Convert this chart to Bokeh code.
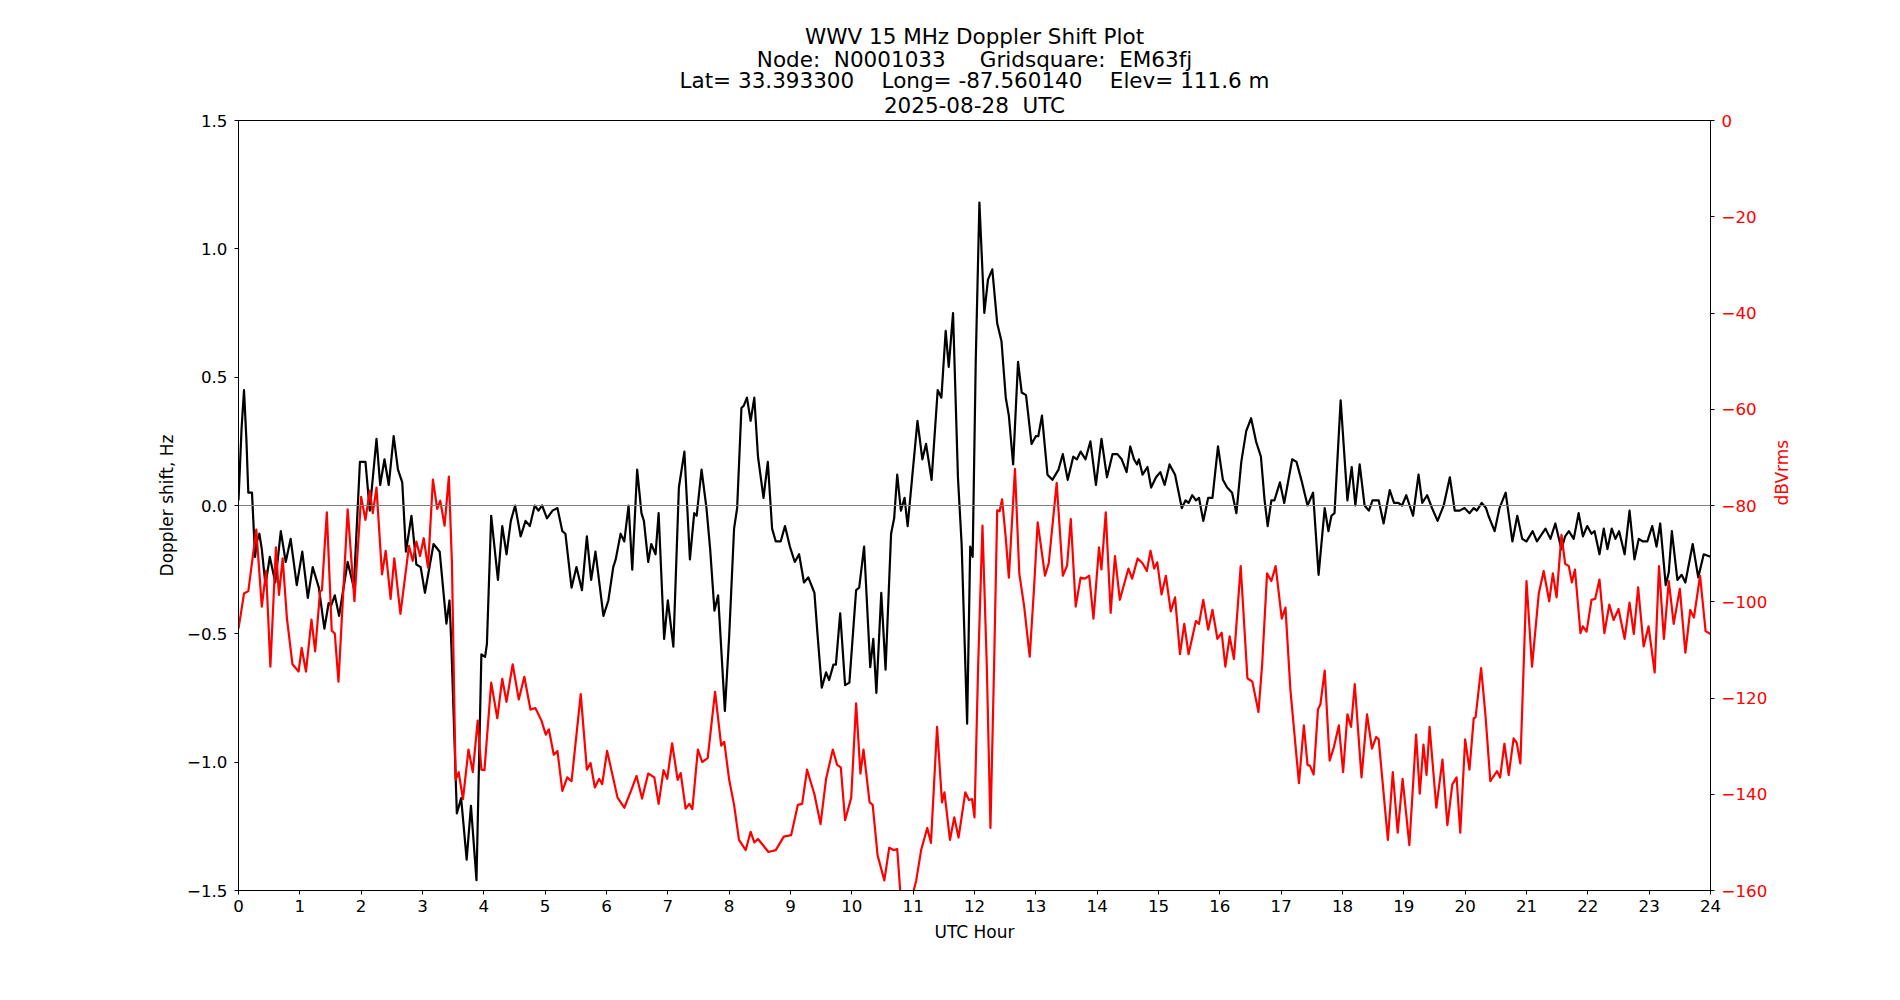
import math
from bokeh.plotting import figure
from bokeh.models import Range1d, LinearAxis, FixedTicker, Span, Title
from bokeh.embed import file_html
from bokeh.resources import INLINE

# ---------------- data ----------------
NB = "\u00a0"
title_lines = [
    "WWV 15 MHz Doppler Shift Plot",
    "Node:" + NB + " N0001033" + NB * 4 + " Gridsquare:" + NB + " EM63fj",
    "Lat= 33.393300" + NB * 3 + " Long= -87.560140" + NB * 3 + " Elev= 111.6 m",
    "2025-08-28" + NB + " UTC",
]

doppler_hours = [
    0.0, 0.05, 0.09, 0.13, 0.16, 0.22, 0.27, 0.30, 0.34, 0.38, 0.44, 0.51, 0.6, 0.69, 0.77, 0.85, 0.95,
    1.04, 1.13, 1.21, 1.31, 1.40, 1.47, 1.51, 1.57, 1.64, 1.78, 1.88, 1.98, 2.04, 2.07, 2.14, 2.25, 2.31,
    2.38, 2.45, 2.53, 2.6, 2.67, 2.73, 2.82, 2.9, 2.97, 3.04, 3.18, 3.28, 3.39, 3.44, 3.47, 3.56, 3.63,
    3.72, 3.79, 3.88, 3.96, 4.02, 4.05, 4.12, 4.23, 4.3, 4.37, 4.44, 4.51, 4.6, 4.68, 4.75, 4.83, 4.89,
    4.95, 5.03, 5.12, 5.2, 5.28, 5.33, 5.43, 5.51, 5.6, 5.68, 5.75, 5.82, 5.95, 6.03, 6.11, 6.15, 6.23,
    6.29, 6.36, 6.42, 6.5, 6.57, 6.61, 6.68, 6.73, 6.8, 6.85, 6.94, 7.0, 7.09, 7.18, 7.27, 7.36, 7.43,
    7.47, 7.55, 7.63, 7.69, 7.76, 7.82, 7.93, 8.0, 8.08, 8.13, 8.2, 8.24, 8.29, 8.35, 8.41, 8.47, 8.56,
    8.63, 8.7, 8.76, 8.84, 8.91, 8.99, 9.07, 9.14, 9.22, 9.29, 9.39, 9.44, 9.51, 9.58, 9.63, 9.7, 9.74,
    9.81, 9.89, 9.96, 10.07, 10.12, 10.2, 10.3, 10.35, 10.4, 10.48, 10.55, 10.64, 10.69, 10.74, 10.8,
    10.86, 10.91, 10.98, 11.07, 11.15, 11.21, 11.3, 11.4, 11.46, 11.53, 11.58, 11.65, 11.73, 11.79,
    11.88, 11.93, 11.97, 12.02, 12.08, 12.16, 12.22, 12.29, 12.37, 12.44, 12.51, 12.56, 12.63, 12.71,
    12.77, 12.84, 12.93, 13.0, 13.04, 13.1, 13.19, 13.27, 13.37, 13.44, 13.52, 13.61, 13.67, 13.73,
    13.81, 13.89, 13.98, 14.07, 14.16, 14.25, 14.33, 14.4, 14.48, 14.54, 14.6, 14.65, 14.68, 14.74,
    14.82, 14.88, 14.96, 15.03, 15.1, 15.18, 15.27, 15.38, 15.44, 15.49, 15.55, 15.61, 15.66, 15.73,
    15.81, 15.88, 15.97, 16.05, 16.12, 16.2, 16.27, 16.35, 16.43, 16.51, 16.59, 16.67, 16.73, 16.78,
    16.84, 16.89, 16.98, 17.05, 17.18, 17.25, 17.34, 17.43, 17.52, 17.61, 17.71, 17.77, 17.82, 17.87,
    17.97, 18.08, 18.15, 18.21, 18.28, 18.36, 18.43, 18.49, 18.54, 18.59, 18.67, 18.77, 18.84, 18.91,
    18.97, 19.04, 19.15, 19.24, 19.3, 19.38, 19.46, 19.55, 19.65, 19.75, 19.83, 19.91, 19.99, 20.07,
    20.14, 20.19, 20.27, 20.34, 20.38, 20.48, 20.56, 20.66, 20.77, 20.85, 20.93, 21.0, 21.1, 21.17,
    21.31, 21.39, 21.47, 21.57, 21.63, 21.69, 21.77, 21.85, 21.92, 21.99, 22.06, 22.11, 22.19, 22.26,
    22.32, 22.39, 22.45, 22.51, 22.6, 22.68, 22.76, 22.83, 22.9, 22.97, 23.05, 23.12, 23.18, 23.27,
    23.32, 23.37, 23.46, 23.53, 23.59, 23.71, 23.8, 23.89, 24.0,
]
doppler_hz = [
    0.02, 0.3, 0.45, 0.25, 0.05, 0.05, -0.2, -0.14, -0.11, -0.17, -0.31, -0.2, -0.3, -0.1, -0.22, -0.13, -0.31,
    -0.18, -0.36, -0.24, -0.32, -0.48, -0.38, -0.39, -0.35, -0.43, -0.22, -0.32, 0.17, 0.17, 0.17, -0.02, 0.26, 0.08,
    0.18, 0.08, 0.27, 0.14, 0.09, -0.18, -0.04, -0.23, -0.24, -0.34, -0.15, -0.18, -0.46, -0.37, -0.54, -1.2, -1.14,
    -1.38, -1.17, -1.46, -0.58, -0.59, -0.54, -0.04, -0.29, -0.08, -0.19, -0.06, 0.0, -0.12, -0.06, -0.08, 0.0, -0.02,
    0.0, -0.05, -0.02, -0.01, -0.1, -0.11, -0.32, -0.24, -0.33, -0.12, -0.29, -0.18, -0.43, -0.37, -0.24, -0.21, -0.11,
    -0.14, 0.0, -0.25, 0.14, -0.03, -0.06, -0.22, -0.15, -0.19, -0.03, -0.52, -0.37, -0.55, 0.07, 0.21, -0.21, -0.03,
    -0.04, 0.14, -0.01, -0.17, -0.41, -0.35, -0.8, -0.51, -0.09, -0.01, 0.38, 0.39, 0.42, 0.33, 0.42, 0.19, 0.03,
    0.17, -0.09, -0.14, -0.14, -0.08, -0.16, -0.22, -0.19, -0.3, -0.28, -0.34, -0.5, -0.71, -0.65, -0.68, -0.62, -0.62,
    -0.42, -0.7, -0.69, -0.33, -0.32, -0.16, -0.63, -0.52, -0.73, -0.34, -0.64, -0.11, -0.05, 0.12, -0.02,
    0.03, -0.08, 0.1, 0.33, 0.18, 0.24, 0.1, 0.45, 0.42, 0.68, 0.54, 0.75, 0.11, -0.15,
    -0.85, -0.16, -0.2, 0.56, 1.18, 0.75, 0.88, 0.92, 0.71, 0.64, 0.42, 0.35, 0.16, 0.56,
    0.44, 0.43, 0.24, 0.27, 0.27, 0.35, 0.12, 0.1, 0.14, 0.2, 0.1, 0.19, 0.18, 0.21,
    0.18, 0.25, 0.08, 0.26, 0.11, 0.2, 0.2, 0.18, 0.13, 0.23, 0.18, 0.16, 0.18, 0.12,
    0.15, 0.07, 0.11, 0.13, 0.08, 0.16, 0.12, -0.01, 0.02, 0.01, 0.04, 0.02, 0.03, -0.06,
    0.03, 0.03, 0.23, 0.1, 0.07, 0.05, -0.03, 0.17, 0.29, 0.34, 0.25, 0.19, 0.02, -0.08,
    0.02, 0.02, 0.09, 0.01, 0.18, 0.17, 0.09, 0.0, 0.05, -0.27, -0.01, -0.1, -0.04, -0.03,
    0.41, 0.02, 0.15, 0.0, 0.16, 0.0, -0.02, 0.02, 0.02, 0.02, -0.07, 0.06, 0.01, 0.01,
    0.0, 0.04, -0.04, 0.12, 0.01, 0.04, -0.01, -0.06, 0.0, 0.11, -0.02, -0.02, -0.01, -0.03,
    -0.01, -0.02, 0.01, -0.01, -0.04, -0.1, -0.01, 0.05, -0.14, -0.04, -0.13, -0.14, -0.1, -0.14,
    -0.09, -0.13, -0.07, -0.17, -0.12, -0.1, -0.13, -0.03, -0.12, -0.08, -0.11, -0.1, -0.19, -0.09,
    -0.17, -0.09, -0.13, -0.1, -0.19, -0.02, -0.21, -0.13, -0.14, -0.14, -0.08, -0.16, -0.07, -0.31,
    -0.26, -0.1, -0.29, -0.27, -0.3, -0.15, -0.28, -0.19, -0.2,
]

power_hours = [
    0.0, 0.09, 0.16, 0.29, 0.38, 0.45, 0.52, 0.61, 0.66, 0.72, 0.79, 0.88, 0.98, 1.03, 1.1, 1.19, 1.25,
    1.33, 1.36, 1.44, 1.52, 1.57, 1.63, 1.78, 1.89, 2.0, 2.07, 2.14, 2.19, 2.25, 2.34, 2.4, 2.48, 2.54,
    2.64, 2.78, 2.84, 2.9, 2.96, 3.02, 3.09, 3.17, 3.24, 3.29, 3.36, 3.43, 3.48, 3.54, 3.59, 3.66, 3.75,
    3.82, 3.9, 3.96, 4.01, 4.12, 4.22, 4.3, 4.37, 4.47, 4.57, 4.66, 4.76, 4.84, 4.94, 5.01, 5.06, 5.14,
    5.2, 5.28, 5.36, 5.43, 5.58, 5.68, 5.74, 5.81, 5.88, 5.93, 6.01, 6.18, 6.29, 6.39, 6.49, 6.58, 6.68,
    6.78, 6.85, 6.93, 6.99, 7.07, 7.16, 7.21, 7.29, 7.35, 7.4, 7.49, 7.56, 7.65, 7.77, 7.87, 7.92, 8.0,
    8.08, 8.16, 8.27, 8.35, 8.41, 8.47, 8.54, 8.64, 8.76, 8.89, 9.01, 9.12, 9.19, 9.27, 9.39, 9.49, 9.58,
    9.69, 9.76, 9.82, 9.89, 9.99, 10.07, 10.14, 10.19, 10.29, 10.34, 10.42, 10.53, 10.61, 10.68, 10.74,
    10.8, 10.88, 10.97, 11.05, 11.13, 11.23, 11.29, 11.39, 11.47, 11.51, 11.6, 11.67, 11.74, 11.85,
    11.91, 11.96, 12.0, 12.06, 12.13, 12.2, 12.26, 12.32, 12.37, 12.41, 12.45, 12.51, 12.56, 12.66,
    12.73, 12.81, 12.9, 12.97, 13.03, 13.15, 13.21, 13.34, 13.44, 13.51, 13.57, 13.65, 13.73, 13.8,
    13.87, 13.94, 14.03, 14.07, 14.14, 14.22, 14.29, 14.37, 14.51, 14.57, 14.66, 14.74, 14.81, 14.87,
    14.93, 14.98, 15.05, 15.12, 15.2, 15.27, 15.35, 15.42, 15.49, 15.61, 15.66, 15.73, 15.81, 15.88,
    15.96, 16.03, 16.09, 16.16, 16.23, 16.34, 16.45, 16.53, 16.63, 16.69, 16.77, 16.84, 16.91, 17.01,
    17.07, 17.15, 17.29, 17.37, 17.43, 17.47, 17.53, 17.6, 17.64, 17.71, 17.79, 17.86, 17.94, 18.01,
    18.08, 18.14, 18.2, 18.31, 18.4, 18.48, 18.55, 18.59, 18.74, 18.82, 18.9, 18.98, 19.09, 19.2,
    19.26, 19.32, 19.37, 19.42, 19.53, 19.63, 19.71, 19.79, 19.86, 19.92, 20.0, 20.07, 20.14, 20.17,
    20.26, 20.33, 20.41, 20.52, 20.57, 20.64, 20.71, 20.79, 20.84, 20.9, 21.0, 21.09, 21.2, 21.28,
    21.37, 21.43, 21.49, 21.57, 21.63, 21.69, 21.74, 21.79, 21.88, 21.92, 21.98, 22.06, 22.12, 22.19,
    22.27, 22.35, 22.42, 22.5, 22.6, 22.68, 22.75, 22.82, 22.91, 22.99, 23.09, 23.16, 23.24, 23.32,
    23.4, 23.5, 23.59, 23.67, 23.73, 23.83, 23.92, 24.0,
]
power_dbv = [
    -105.6, -98.3, -97.8, -85, -101, -93.6, -113.5, -88.7, -98.6, -91, -103.5, -113, -114.5, -109.6, -114.5, -103.7, -110.3,
    -97.8, -97.6, -81.4, -106, -106.6, -116.6, -80.8, -99.9, -78.2, -83, -76.9, -81.6, -76.3, -94.3, -89.4, -99.4, -91,
    -102.5, -88.4, -91.5, -87.5, -90.5, -86.8, -92.9, -74.6, -80.7, -79, -84.2, -74, -92, -137, -135.4, -141, -130.7,
    -135.4, -124.7, -134.9, -135, -116.8, -124.2, -116, -120.8, -113, -120.3, -115.6, -122.4, -122.1, -124.7, -127.6, -126.5, -131.8,
    -131, -139.3, -136.5, -137.3, -119.2, -134.9, -133.5, -138.6, -136.8, -137.9, -131, -140.7, -142.8, -139.6, -136.2, -140.9, -135.7,
    -136.5, -142, -135, -136.8, -129.4, -137, -135.6, -143, -142, -143.1, -130.7, -133.3, -132.5, -118.7, -129.9, -129.1, -137,
    -142.2, -149.5, -151.6, -147.8, -150, -149.3, -150.4, -152, -151.6, -148.8, -148.5, -142.2, -142, -134.9, -140, -146.2, -136.8,
    -130.7, -133.9, -134.4, -145.4, -140.7, -121.1, -135.7, -130.7, -141.7, -142.2, -152.7, -157.9, -151.1, -151.6, -151.4,
    -162, -165, -162, -157.9, -151.6, -147, -150.1, -126, -141.7, -139.6, -149.5, -144.8, -149, -139.6,
    -141.2, -141, -144.8, -113, -84.2, -113, -147, -113, -81, -81.2, -78.7, -86.8, -95, -72.4,
    -94.1, -101, -111.4, -97.3, -83.5, -94.6, -92, -75.3, -94.6, -92.5, -82.8, -101, -95, -95.2,
    -94.6, -103.5, -88.7, -93.3, -81.4, -102.3, -90.5, -99.6, -93.1, -95.2, -91, -92, -93.6, -89.4,
    -93.1, -91.8, -98.5, -94.6, -102, -99.1, -110.9, -104.6, -110.9, -104, -104.6, -99.6, -105.8, -101.7,
    -107.7, -106.4, -113.5, -107.2, -111.9, -92.6, -115.9, -116.6, -122.9, -113, -94.1, -95.7, -92.6, -103.5,
    -101.2, -118.2, -137.7, -125.7, -133.9, -134.1, -135.9, -122.4, -121.3, -114.3, -133, -130.2, -125.7, -135.4,
    -123.4, -126, -117.1, -136.5, -123.4, -130.5, -128.1, -128.6, -149.5, -135.4, -148, -136.8, -150.6, -127.6,
    -139.9, -129.7, -136, -126, -142.8, -132.8, -146.4, -138, -136.5, -148, -128.6, -134.9, -124.2, -124,
    -113.8, -123.4, -137.3, -135.2, -136.5, -129.5, -136, -128.4, -129.3, -133.6, -95.7, -113.5, -98.3, -93.6,
    -99.9, -94.1, -99.1, -86.1, -92.1, -92.6, -96, -93.3, -106.5, -105.1, -106.2, -99.6, -99.4, -95.4,
    -106.5, -100.6, -103.8, -101.5, -107.7, -100.2, -106.7, -97, -109.3, -105.1, -114.7, -92.6, -107.7, -95.7,
    -104.6, -97.3, -110.6, -101.7, -103.3, -94.6, -106.1, -106.7,
]

hour_ticks = list(range(0, 25))
hour_tick_labels = [str(h) for h in hour_ticks]
hz_ticks = [-1.5, -1.0, -0.5, 0.0, 0.5, 1.0, 1.5]
hz_tick_labels = ["\u22121.5", "\u22121.0", "\u22120.5", "0.0", "0.5", "1.0", "1.5"]
db_ticks = [-160, -140, -120, -100, -80, -60, -40, -20, 0]
db_tick_labels = ["\u2212160", "\u2212140", "\u2212120", "\u2212100", "\u221280", "\u221260", "\u221240", "\u221220", "0"]

# ---------------- figure ----------------
FONT = "DejaVu Sans"
TICK_SIZE = "16.7px"
LABEL_SIZE = "17px"
TITLE_SIZE = "21.5px"

p = figure(
    width=1900, height=1000,
    x_range=Range1d(0, 24), y_range=Range1d(-1.5, 1.5),
    output_backend="svg", toolbar_location=None,
    min_border_left=238, min_border_right=190,
    min_border_top=120, min_border_bottom=110,
)
p.extra_y_ranges = {"db": Range1d(-160, 0)}
p.background_fill_color = "white"
p.border_fill_color = "white"
p.outline_line_color = "black"
p.outline_line_width = 1
p.outline_line_alpha = 1
p.xgrid.visible = False
p.ygrid.visible = False

def style_axis(ax, label_color="black"):
    ax.major_tick_out = 4
    ax.major_tick_in = 0
    ax.minor_tick_out = 0
    ax.minor_tick_in = 0
    ax.axis_line_color = "black"
    ax.major_tick_line_color = "black"
    ax.major_label_text_font = FONT
    ax.major_label_text_font_size = TICK_SIZE
    ax.major_label_text_color = label_color
    ax.axis_label_text_font = FONT
    ax.axis_label_text_font_size = LABEL_SIZE
    ax.axis_label_text_font_style = "normal"
    ax.axis_label_text_color = label_color

xa = p.xaxis[0]
style_axis(xa)
xa.ticker = FixedTicker(ticks=hour_ticks)
xa.major_label_overrides = {t: l for t, l in zip(hour_ticks, hour_tick_labels)}
xa.major_label_standoff = 5
xa.axis_label = "UTC Hour"
xa.axis_label_standoff = 7

ya = p.yaxis[0]
style_axis(ya)
ya.ticker = FixedTicker(ticks=hz_ticks)
ya.major_label_overrides = {t: l for t, l in zip(hz_ticks, hz_tick_labels)}
ya.major_label_standoff = 7
ya.axis_label = "Doppler shift, Hz"
ya.axis_label_standoff = 7

ra = LinearAxis(y_range_name="db")
style_axis(ra, "red")
ra.ticker = FixedTicker(ticks=db_ticks)
ra.major_label_overrides = {t: l for t, l in zip(db_ticks, db_tick_labels)}
ra.major_label_standoff = 7
ra.axis_label = "dBVrms"
ra.axis_label_standoff = 12
try:
    ra.axis_label_orientation = math.pi / 2
except Exception:
    pass
p.add_layout(ra, "right")

p.add_layout(Span(location=0, dimension="width", line_color="#808080", line_width=1))

p.line(doppler_hours, doppler_hz, line_color="black", line_width=2.2, line_join="round")
p.line(power_hours, power_dbv, line_color="red", line_width=2.2, line_join="round",
       y_range_name="db")

# Title lines, each centred over the plot frame (added bottom line first)
title_standoffs = [5, -8, -4, -5]
for line, so in zip(reversed(title_lines), title_standoffs):
    p.add_layout(Title(
        text=line, align="center",
        text_font=FONT, text_font_size=TITLE_SIZE, text_font_style="normal",
        text_color="black", standoff=so,
    ), "above")

open("out.html", "w").write(file_html(p, INLINE))
